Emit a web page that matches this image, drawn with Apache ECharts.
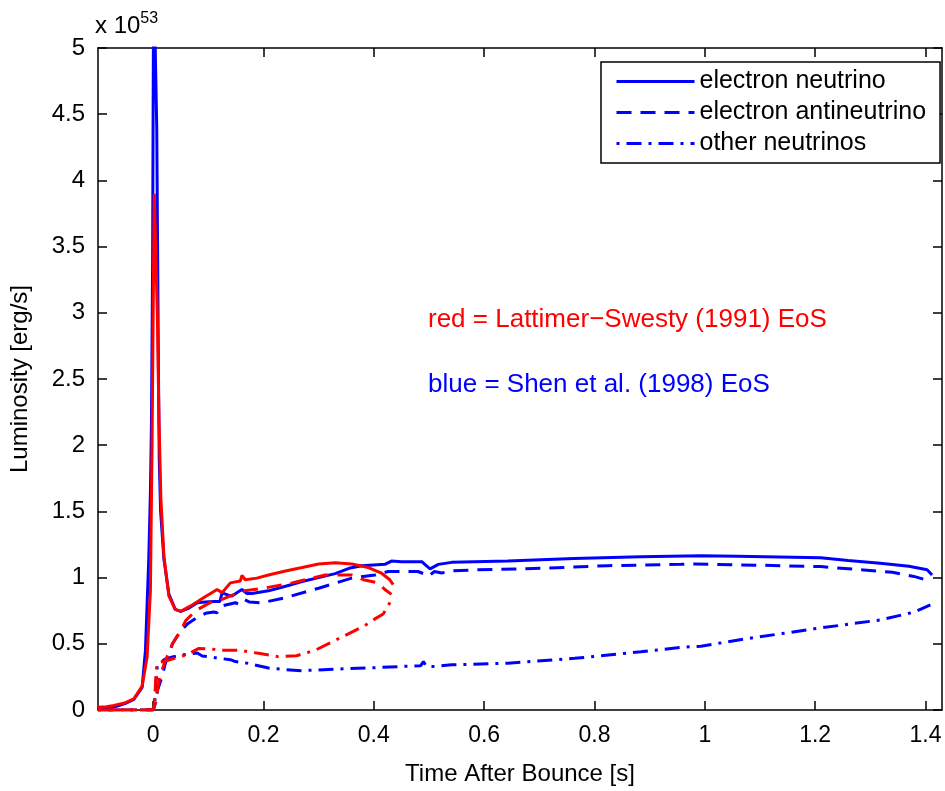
<!DOCTYPE html>
<html>
<head>
<meta charset="utf-8">
<script src="https://cdn.jsdelivr.net/npm/echarts@6/dist/echarts.min.js"></script>
<style>html,body{margin:0;padding:0;background:#fff}#c{width:945px;height:791px}</style>
</head>
<body>
<div id="c"></div>
<script>
// ---- data (time after bounce [s], luminosity [1e53 erg/s]) ----
var xTicks = [0, 0.2, 0.4, 0.6, 0.8, 1, 1.2, 1.4];
var legendNames = ['electron neutrino', 'electron antineutrino', 'other neutrinos'];

// Shen et al. (1998) EoS  (blue)
var shenNuE = [[-0.1,0.01],[-0.08,0.015],[-0.065,0.03],[-0.05,0.05],[-0.035,0.08],[-0.02,0.17],[-0.014,0.45],[-0.008,1.14],[-0.005,1.64],[-0.003,2.2],[-0.001,3.4],[0.0,4.6],[0.001,5.6],[0.004,5.6],[0.0065,4.4],[0.008,3.5],[0.0095,2.6],[0.011,1.9],[0.0135,1.5],[0.0195,1.14],[0.0285,0.875],[0.04,0.76],[0.05,0.745],[0.065,0.77],[0.08,0.81],[0.095,0.815],[0.11,0.82],[0.121,0.82],[0.125,0.885],[0.135,0.87],[0.143,0.86],[0.153,0.89],[0.161,0.91],[0.17,0.88],[0.179,0.88],[0.209,0.90],[0.24,0.935],[0.27,0.97],[0.30,1.0],[0.33,1.03],[0.355,1.07],[0.378,1.09],[0.42,1.10],[0.432,1.125],[0.45,1.12],[0.487,1.12],[0.495,1.09],[0.502,1.066],[0.517,1.10],[0.541,1.115],[0.643,1.125],[0.763,1.145],[0.884,1.157],[0.993,1.165],[1.059,1.162],[1.21,1.15],[1.26,1.13],[1.318,1.108],[1.37,1.085],[1.403,1.06],[1.412,1.02]];
var shenNuEbar = [[-0.1,0],[0.0,0],[0.002,0.02],[0.004,0.06],[0.008,0.15],[0.012,0.2],[0.016,0.25],[0.022,0.35],[0.035,0.5],[0.047,0.58],[0.062,0.65],[0.08,0.70],[0.095,0.73],[0.11,0.74],[0.116,0.735],[0.12,0.76],[0.125,0.786],[0.149,0.81],[0.155,0.80],[0.164,0.836],[0.175,0.815],[0.197,0.81],[0.239,0.848],[0.30,0.92],[0.36,0.996],[0.402,1.02],[0.426,1.046],[0.48,1.046],[0.49,1.03],[0.499,1.01],[0.51,1.046],[0.523,1.035],[0.541,1.051],[0.583,1.058],[0.704,1.07],[0.824,1.09],[0.957,1.1],[0.981,1.103],[1.138,1.09],[1.21,1.083],[1.288,1.058],[1.34,1.04],[1.379,1.009],[1.406,0.977]];
var shenNuX = [[-0.1,0],[0.0,0],[0.003,0.05],[0.005,0.2],[0.0075,0.33],[0.0195,0.38],[0.035,0.40],[0.05,0.415],[0.08,0.43],[0.089,0.408],[0.104,0.40],[0.12,0.39],[0.14,0.38],[0.149,0.366],[0.17,0.354],[0.209,0.317],[0.24,0.305],[0.27,0.297],[0.33,0.309],[0.39,0.317],[0.45,0.329],[0.485,0.335],[0.49,0.366],[0.495,0.33],[0.51,0.329],[0.541,0.341],[0.643,0.354],[0.764,0.39],[0.884,0.44],[0.957,0.473],[0.993,0.482],[1.077,0.539],[1.198,0.613],[1.318,0.68],[1.38,0.74],[1.409,0.794]];

// Lattimer-Swesty (1991) EoS  (red)
var lsNuE = [[-0.1,0.02],[-0.085,0.025],[-0.071,0.035],[-0.05,0.055],[-0.035,0.085],[-0.02,0.18],[-0.011,0.4],[-0.005,0.9],[-0.002,2.0],[0.0,3.0],[0.002,3.9],[0.005,3.9],[0.0075,3.0],[0.0105,2.2],[0.014,1.6],[0.0195,1.16],[0.0285,0.86],[0.04,0.76],[0.05,0.745],[0.068,0.786],[0.092,0.85],[0.116,0.91],[0.125,0.885],[0.14,0.96],[0.158,0.975],[0.161,1.016],[0.167,0.984],[0.188,0.996],[0.209,1.02],[0.24,1.05],[0.27,1.076],[0.30,1.103],[0.33,1.113],[0.36,1.103],[0.39,1.076],[0.414,1.033],[0.429,0.984],[0.435,0.947]];
var lsNuEbar = [[-0.1,0],[-0.005,0],[0.0,0.01],[0.005,0.06],[0.008,0.15],[0.012,0.25],[0.02,0.35],[0.035,0.5],[0.05,0.6],[0.059,0.675],[0.077,0.75],[0.107,0.82],[0.125,0.836],[0.161,0.898],[0.203,0.922],[0.252,0.96],[0.312,1.02],[0.36,1.02],[0.381,0.984],[0.408,0.96],[0.42,0.91],[0.432,0.873]];
var lsNuX = [[-0.1,0],[0.0,0],[0.003,0.1],[0.0055,0.3],[0.0074,0.354],[0.0285,0.378],[0.059,0.415],[0.083,0.465],[0.107,0.46],[0.119,0.452],[0.155,0.452],[0.191,0.428],[0.227,0.403],[0.26,0.41],[0.294,0.452],[0.342,0.551],[0.384,0.638],[0.402,0.688],[0.417,0.725],[0.429,0.81],[0.434,0.86]];

var FONT = '"Liberation Sans", Arial, Helvetica, sans-serif';
var BLUE = '#0000ff', RED = '#ff0000';
var SOLID = 'solid', DASH = [15, 9], DASHDOT = [3, 7, 15, 7];

function mk(name, data, color, type) {
  return {
    name: name, type: 'line', data: data, symbol: 'none', showSymbol: false,
    clip: true, animation: false, silent: true,
    lineStyle: { color: color, width: 3, type: type },
    itemStyle: { color: color }
  };
}

var chart = echarts.init(document.getElementById('c'), null, { renderer: 'canvas' });
var axisCommon = {
  axisLine: { show: true, onZero: false, lineStyle: { color: '#000', width: 1.5 } },
  splitLine: { show: false }
};
chart.setOption({
  animation: false,
  backgroundColor: '#fff',
  grid: { left: 96, right: 3, top: 48, bottom: 70, containLabel: false },
  xAxis: [
    Object.assign({
      type: 'value', min: -0.1, max: 1.43, position: 'bottom',
      name: 'Time After Bounce [s]', nameLocation: 'middle', nameGap: 52,
      nameTextStyle: { fontFamily: FONT, fontSize: 24, color: '#000' },
      axisTick: { show: true, inside: true, length: 9, customValues: xTicks, lineStyle: { color: '#000', width: 1.5 } },
      axisLabel: { show: true, customValues: xTicks, fontFamily: FONT, fontSize: 23, color: '#000', margin: 14 }
    }, axisCommon),
    Object.assign({
      type: 'value', min: -0.1, max: 1.43, position: 'top',
      axisTick: { show: true, inside: true, length: 9, customValues: xTicks, lineStyle: { color: '#000', width: 1.5 } },
      axisLabel: { show: false }
    }, axisCommon)
  ],
  yAxis: [
    Object.assign({
      type: 'value', min: 0, max: 5, interval: 0.5, position: 'left',
      name: 'Luminosity [erg/s]', nameLocation: 'middle', nameGap: 66, nameRotate: 90,
      nameTextStyle: { fontFamily: FONT, fontSize: 24, color: '#000' },
      axisTick: { show: true, inside: true, length: 9, lineStyle: { color: '#000', width: 1.5 } },
      axisLabel: { show: true, fontFamily: FONT, fontSize: 24, color: '#000', margin: 13 }
    }, axisCommon),
    Object.assign({
      type: 'value', min: 0, max: 5, interval: 0.5, position: 'right',
      axisTick: { show: true, inside: true, length: 9, lineStyle: { color: '#000', width: 1.5 } },
      axisLabel: { show: false }
    }, axisCommon)
  ],
  legend: {
    data: legendNames, orient: 'vertical', left: 601, top: 62,
    itemWidth: 78, itemHeight: 20, itemGap: 6,
    padding: [7, 14, 7, 14],
    borderColor: '#000', borderWidth: 1.5, backgroundColor: '#fff',
    itemStyle: { opacity: 0 },
    lineStyle: { width: 3 },
    textStyle: { fontFamily: FONT, fontSize: 25, color: '#000' },
    selectedMode: false
  },
  graphic: [
    { type: 'text', left: 95, top: 11, z: 10, style: {
        text: '{a|x 10}{s|53}', fill: '#000',
        rich: { a: { fontFamily: FONT, fontSize: 24, padding: [8, 0, 0, 0] }, s: { fontFamily: FONT, fontSize: 16, padding: [0, 0, 6, 0] } } } },
    { type: 'text', left: 428, top: 307, z: 10, style: { text: 'red = Lattimer\u2212Swesty (1991) EoS', fill: RED, font: '26px ' + FONT } },
    { type: 'text', left: 428, top: 372, z: 10, style: { text: 'blue = Shen et al. (1998) EoS', fill: BLUE, font: '26px ' + FONT } }
  ],
  series: [
    mk('electron neutrino', shenNuE, BLUE, SOLID),
    mk('electron antineutrino', shenNuEbar, BLUE, DASH),
    mk('other neutrinos', shenNuX, BLUE, DASHDOT),
    mk('LS electron neutrino', lsNuE, RED, SOLID),
    mk('LS electron antineutrino', lsNuEbar, RED, DASH),
    mk('LS other neutrinos', lsNuX, RED, DASHDOT)
  ]
});
</script>
</body>
</html>
